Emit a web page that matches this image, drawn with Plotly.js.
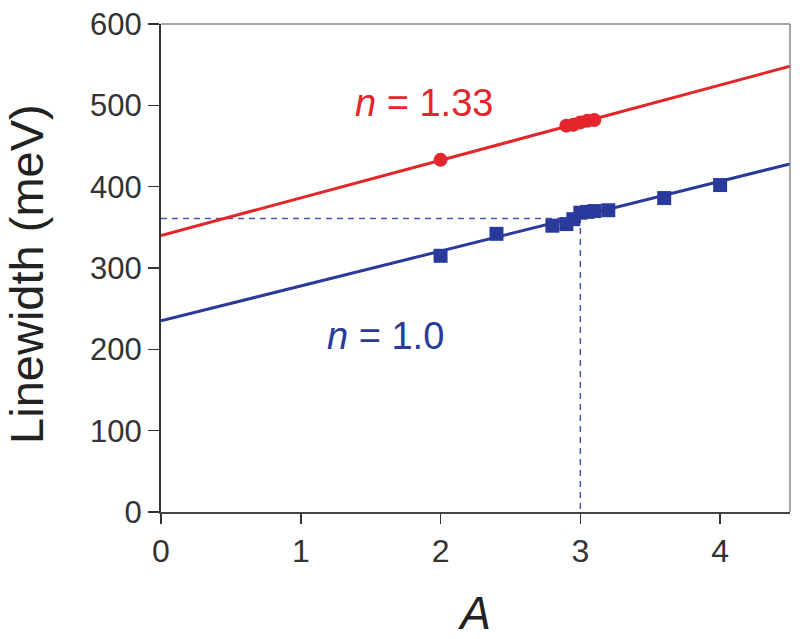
<!DOCTYPE html>
<html><head><meta charset="utf-8">
<script src="https://cdn.plot.ly/plotly-3.0.1.min.js"></script>
<style>html,body{margin:0;padding:0;background:#fff}#chart{width:800px;height:639px}</style>
</head><body><div id="chart"></div>
<script>
const redX = [2.0, 2.9, 2.95, 3.0, 3.05, 3.1];
const redY = [433, 475, 476, 479, 481, 482];
const blueX = [2.0, 2.4, 2.8, 2.9, 2.95, 3.0, 3.05, 3.1, 3.2, 3.6, 4.0];
const blueY = [315, 342, 352, 354, 360, 368, 369, 370, 371, 386, 402];
const redFitX = [0, 4.5];
const redFitY = [340, 548];
const blueFitX = [0, 4.5];
const blueFitY = [235, 428];
const guideX = [0, 3, 3];
const guideY = [361, 361, 0];
const xTicks = [0, 1, 2, 3, 4];
const yTicks = [0, 100, 200, 300, 400, 500, 600];

const RED = '#e3262a', BLUE = '#2a3a9c';
const traces = [
  {x: guideX, y: guideY, mode: 'lines', line: {color: '#4a55b8', width: 1.5, dash: '6px,5px'}, hoverinfo: 'skip'},
  {x: redFitX, y: redFitY, mode: 'lines', line: {color: RED, width: 3}},
  {x: blueFitX, y: blueFitY, mode: 'lines', line: {color: BLUE, width: 3}},
  {x: redX, y: redY, mode: 'markers', marker: {symbol: 'circle', size: 14, color: RED}},
  {x: blueX, y: blueY, mode: 'markers', marker: {symbol: 'square', size: 14, color: BLUE}}
];
const layout = {
  width: 800, height: 639, showlegend: false,
  margin: {l: 161, r: 10, t: 24, b: 127},
  paper_bgcolor: '#fff', plot_bgcolor: '#fff',
  font: {family: 'Liberation Sans, Arial, sans-serif', color: '#333'},
  xaxis: {range: [0, 4.5], tickvals: xTicks, ticks: 'outside', ticklen: 10, tickwidth: 1.5, tickcolor: '#333',
    showline: true, linecolor: '#444', linewidth: 2, showgrid: false, zeroline: false,
    tickfont: {size: 32, color: '#333'},
    title: {text: '<i>A</i>', font: {size: 46, color: '#222'}, standoff: 28}},
  yaxis: {range: [0, 600], tickvals: yTicks, ticks: 'outside', ticklen: 11, tickwidth: 1.5, tickcolor: '#333',
    showline: true, linecolor: '#333', linewidth: 2, showgrid: false, zeroline: false,
    tickfont: {size: 31, color: '#333'}},
  shapes: [
    {type: 'line', xref: 'paper', yref: 'paper', x0: 0, x1: 1, y0: 1, y1: 1, line: {color: '#888', width: 1.5}},
    {type: 'line', xref: 'paper', yref: 'paper', x0: 1, x1: 1, y0: 0, y1: 1, line: {color: '#888', width: 1.5}}
  ],
  annotations: [
    {xref: 'paper', yref: 'paper', x: -0.213, y: 0.488, xanchor: 'center', yanchor: 'middle', showarrow: false,
     textangle: -90, text: 'Linewidth (meV)', font: {size: 47, color: '#222'}},
    {x: 1.37, y: 503, xanchor: 'left', yanchor: 'middle', showarrow: false, text: '<i>n</i> = 1.33', font: {size: 38, color: RED}},
    {x: 1.17, y: 216, xanchor: 'left', yanchor: 'middle', showarrow: false, text: '<i>n</i> = 1.0', font: {size: 38, color: BLUE}}
  ]
};
Plotly.newPlot('chart', traces, layout, {displayModeBar: false, staticPlot: true});
</script></body></html>
